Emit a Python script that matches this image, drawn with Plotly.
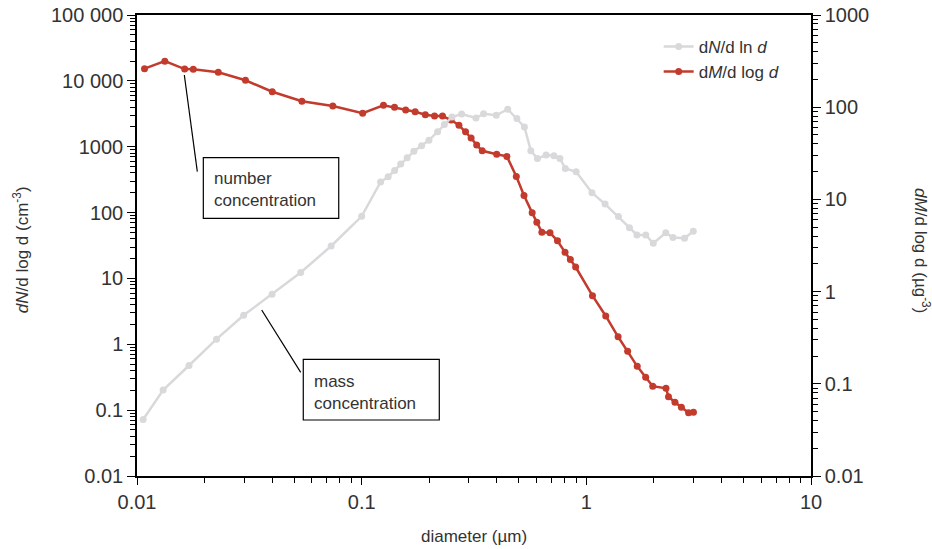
import plotly.graph_objects as go

# number concentration (red, left axis)
red_d = [0.0108, 0.0133, 0.0163, 0.0178, 0.0230, 0.0304, 0.0400, 0.0542, 0.0744, 0.101,
         0.125, 0.140, 0.157, 0.173, 0.192, 0.211, 0.229, 0.250, 0.271, 0.290,
         0.307, 0.325, 0.344, 0.399, 0.443, 0.488, 0.528, 0.574, 0.602, 0.634,
         0.689, 0.744, 0.804, 0.849, 0.896, 1.065, 1.22, 1.385, 1.527, 1.685,
         1.837, 1.975, 2.262, 2.321, 2.48, 2.649, 2.851, 2.998]
red_n = [15300, 19900, 15100, 15000, 13500, 10200, 6840, 4910, 4150, 3230,
         4250, 3960, 3610, 3390, 3050, 2920, 2920, 2540, 2120, 1690,
         1356, 1061, 867, 769, 713, 353, 182, 99, 71.4, 50.1,
         49.4, 37.2, 24.9, 19.4, 14.9, 5.47, 2.69, 1.30, 0.782, 0.463,
         0.316, 0.231, 0.215, 0.160, 0.1315, 0.1104, 0.0914, 0.0927]

# mass concentration (gray, right axis)
gray_d = [0.01065, 0.01307, 0.01704, 0.02259, 0.02983, 0.03991, 0.05352, 0.07315, 0.1000, 0.1214,
          0.1312, 0.1402, 0.1492, 0.1594, 0.1708, 0.1848, 0.1992, 0.2178, 0.2334, 0.2522,
          0.2785, 0.3225, 0.3489, 0.3971, 0.4468, 0.4909, 0.5301, 0.5662, 0.6058, 0.6622,
          0.7173, 0.7628, 0.8061, 0.9008, 1.059, 1.212, 1.390, 1.556, 1.680, 1.839,
          1.986, 2.257, 2.430, 2.736, 2.992]
gray_m = [0.0410, 0.0857, 0.158, 0.305, 0.553, 0.935, 1.611, 3.123, 6.557, 15.44,
          17.63, 20.58, 24.20, 28.26, 33.33, 38.14, 43.75, 54.24, 64.94, 78.29,
          84.39, 76.36, 85.03, 81.69, 95.12, 75.22, 60.98, 33.75, 27.70, 30.30,
          29.79, 27.77, 21.63, 19.97, 11.82, 8.89, 6.52, 4.93, 4.11, 4.11,
          3.34, 4.35, 3.86, 3.79, 4.51]

x_tickvals = [0.01, 0.1, 1, 10]
x_ticktext = ["0.01", "0.1", "1", "10"]
yl_tickvals = [0.01, 0.1, 1, 10, 100, 1000, 10000, 100000]
yl_ticktext = ["0.01", "0.1", "1", "10", "100", "1000", "10 000", "100 000"]
yr_tickvals = [0.01, 0.1, 1, 10, 100, 1000]
yr_ticktext = ["0.01", "0.1", "1", "10", "100", "1000"]

RED = "#c23b2d"
GRAY = "#d9d9db"
TXT = "#333333"
FONT = "Liberation Sans"

fig = go.Figure()
fig.add_trace(go.Scatter(
    x=red_d, y=red_n, mode="lines+markers", name="d<i>M</i>/d log <i>d</i>",
    line=dict(color=RED, width=2.5), marker=dict(color=RED, size=7),
    yaxis="y"))
fig.add_trace(go.Scatter(
    x=gray_d, y=gray_m, mode="lines+markers", name="d<i>N</i>/d ln <i>d</i>",
    line=dict(color=GRAY, width=2.5), marker=dict(color=GRAY, size=7),
    yaxis="y2"))

minor = dict(ticks="outside", ticklen=5, tickcolor="black", tickwidth=1, dtick="D1", showgrid=False)

fig.update_layout(
    width=932, height=549,
    margin=dict(l=137, r=121, t=15, b=73, autoexpand=False),
    paper_bgcolor="white", plot_bgcolor="white",
    font=dict(family=FONT, color=TXT, size=17),
    showlegend=True,
    legend=dict(x=0.774, y=0.97, xanchor="left", yanchor="top",
                traceorder="reversed", bgcolor="rgba(0,0,0,0)",
                font=dict(size=17, color=TXT), tracegroupgap=0),
    xaxis=dict(type="log", range=[-2, 1], tickmode="array", tickvals=x_tickvals,
               ticktext=x_ticktext, showgrid=False, zeroline=False, automargin=False,
               showline=True, linecolor="black", linewidth=1.5, mirror=True,
               ticks="outside", ticklen=7, tickcolor="black", tickwidth=1,
               tickfont=dict(size=20, color=TXT), minor=minor),
    yaxis=dict(type="log", range=[-2, 5], tickmode="array", tickvals=yl_tickvals,
               ticktext=yl_ticktext, showgrid=False, zeroline=False, automargin=False,
               showline=True, linecolor="black", linewidth=1.5,
               ticks="outside", ticklen=8, tickcolor="black", tickwidth=1,
               tickfont=dict(size=20, color=TXT), minor=minor),
    yaxis2=dict(type="log", range=[-2, 3], overlaying="y", side="right",
                tickmode="array", tickvals=yr_tickvals, ticktext=yr_ticktext,
                showgrid=False, zeroline=False, automargin=False,
                showline=True, linecolor="black", linewidth=1.5,
                ticks="outside", ticklen=8, tickcolor="black", tickwidth=1,
                tickfont=dict(size=20, color=TXT), minor=minor),
)

# axis titles
fig.add_annotation(xref="paper", yref="paper", x=0.5, y=-0.1323,
                   text="diameter (µm)", showarrow=False,
                   font=dict(size=17, color=TXT), xanchor="center", yanchor="middle")
fig.add_annotation(xref="paper", yref="paper", x=-0.172, y=0.49,
                   text="<i>dN</i>/d log d (cm<sup>-3</sup>)", textangle=-90,
                   showarrow=False, font=dict(size=17, color=TXT),
                   xanchor="center", yanchor="middle")
fig.add_annotation(xref="paper", yref="paper", x=1.1647, y=0.49,
                   text="<i>dM</i>/d log d (µg<sup>-3</sup>)", textangle=90,
                   showarrow=False, font=dict(size=17, color=TXT),
                   xanchor="center", yanchor="middle")

# callout boxes
fig.add_shape(type="rect", xref="paper", yref="paper", x0=0.0984, x1=0.2993, y0=0.559, y1=0.6905,
              line=dict(color="black", width=1.2), fillcolor="white", layer="above")
fig.add_shape(type="rect", xref="paper", yref="paper", x0=0.2467, x1=0.4485, y0=0.1215, y1=0.2531,
              line=dict(color="black", width=1.2), fillcolor="white", layer="above")
fig.add_shape(type="line", xref="paper", yref="paper", x0=0.0702, y0=0.8698, x1=0.0895, y1=0.6601,
              line=dict(color="black", width=1.2))
fig.add_shape(type="line", xref="paper", yref="paper", x0=0.185, y0=0.3601, x1=0.2429, y1=0.2249,
              line=dict(color="black", width=1.2))
fig.add_annotation(xref="paper", yref="paper", x=0.1113, y=0.6206, text="number<br>concentration",
                   showarrow=False, align="left", xanchor="left", yanchor="middle",
                   font=dict(size=17, color=TXT))
fig.add_annotation(xref="paper", yref="paper", x=0.2601, y=0.1822, text="mass<br>concentration",
                   showarrow=False, align="left", xanchor="left", yanchor="middle",
                   font=dict(size=17, color=TXT))

fig.write_html("out.html")
